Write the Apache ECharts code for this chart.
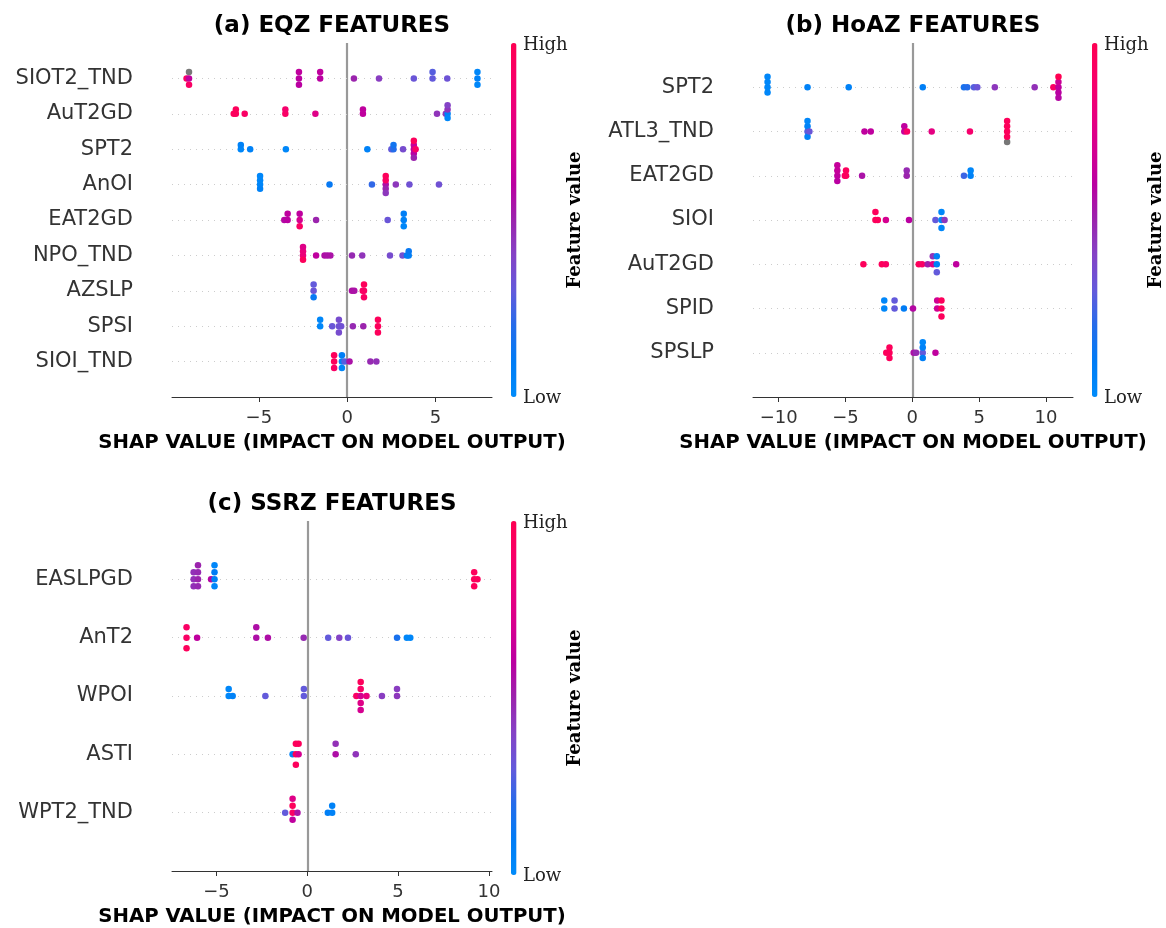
<!DOCTYPE html>
<html><head><meta charset="utf-8">
<script src="https://cdn.jsdelivr.net/npm/echarts@6/dist/echarts.min.js"></script>
<style>html,body{margin:0;padding:0;background:#fff}#c{width:1166px;height:928px}</style>
</head><body><div id="c"></div>
<script>
// ---------------- data ----------------
const featuresA = ['SIOT2_TND','AuT2GD','SPT2','AnOI','EAT2GD','NPO_TND','AZSLP','SPSI','SIOI_TND'];
const shapA = [
  [-9.09,-8.95,-8.95,-8.95,-2.73,-2.73,-2.73,-1.53,-1.53,0.38,1.8,3.77,4.83,4.83,5.66,7.37,7.37,7.37],
  [-6.42,-6.3,-6.3,-5.8,-3.5,-3.5,-1.8,0.89,0.89,5.08,5.58,5.68,5.68,5.68,5.68],
  [-6.02,-6.02,-5.49,-3.47,1.14,2.5,2.62,2.62,3.16,3.77,3.77,3.77,3.77,3.77,3.87],
  [-4.93,-4.93,-4.93,-4.93,-1.0,1.4,2.18,2.18,2.18,2.18,2.18,2.75,3.52,5.19],
  [-3.56,-3.37,-3.37,-2.69,-2.69,-2.69,-1.76,2.29,3.2,3.2,3.2],
  [-2.5,-2.5,-2.5,-2.5,-1.76,-1.28,-1.12,-0.95,0.27,0.85,2.42,3.13,3.38,3.48,3.48],
  [-1.9,-1.9,-1.9,0.27,0.4,0.88,0.95,0.95,0.95],
  [-1.53,-1.53,-0.85,-0.47,-0.47,-0.47,-0.34,0.32,0.91,1.74,1.74,1.74],
  [-0.74,-0.74,-0.74,-0.3,-0.3,-0.3,-0.15,0.13,1.31,1.65]
];
const valueA = [
  [0.92,0.62,null,0.92,0.6,0.62,0.6,0.6,0.62,0.5,0.42,0.32,0.3,0.28,0.33,0.06,0.03,0.03],
  [0.95,0.95,0.96,0.92,0.92,0.88,0.75,0.62,0.62,0.45,0.45,0.06,0.45,0.03,0.4],
  [0.03,0.06,0.06,0.03,0.06,0.3,0.2,0.15,0.36,0.62,0.64,0.6,0.96,0.5,0.92],
  [0.03,0.03,0.06,0.03,0.12,0.22,0.56,0.92,0.5,0.96,0.44,0.44,0.34,0.34],
  [0.58,0.6,0.62,0.7,0.62,0.92,0.5,0.32,0.06,0.08,0.03],
  [0.82,0.82,0.96,0.75,0.62,0.56,0.55,0.55,0.48,0.45,0.36,0.34,0.1,0.08,0.12],
  [0.32,0.3,0.12,0.56,0.55,0.92,0.92,0.96,0.92],
  [0.03,0.03,0.32,0.34,0.36,0.36,0.34,0.48,0.5,0.96,0.96,0.96],
  [0.96,0.96,0.92,0.06,0.08,0.03,0.28,0.55,0.48,0.46]
];
const ticksA = [-5, 0, 5];

const featuresB = ['SPT2','ATL3_TND','EAT2GD','SIOI','AuT2GD','SPID','SPSLP'];
const shapB = [
  [-10.83,-10.83,-10.83,-10.83,-7.84,-4.76,0.78,3.86,4.11,4.61,4.86,6.17,9.15,10.55,10.93,10.93,10.93,10.93,10.93],
  [-7.84,-7.84,-7.84,-7.84,-7.7,-3.58,-3.11,-0.6,-0.6,-0.4,1.45,4.31,7.09,7.09,7.09,7.09,7.09],
  [-5.61,-5.61,-5.61,-5.61,-5.05,-4.96,-4.96,-3.76,-0.42,-0.42,3.86,4.36,4.36],
  [-2.76,-2.76,-2.58,-1.98,-0.25,1.73,2.18,2.18,2.18,2.41],
  [-3.66,-2.28,-1.98,0.48,0.73,1.15,1.53,1.53,1.83,1.83,1.83,3.28],
  [-2.1,-2.1,-1.33,-1.33,-0.63,0.05,1.86,1.86,2.18,2.18,2.18],
  [-1.95,-1.71,-1.71,-1.71,0.1,0.28,0.78,0.78,0.78,0.78,1.73]
];
const valueB = [
  [0.03,0.03,0.03,0.03,0.06,0.06,0.08,0.17,0.2,0.28,0.32,0.44,0.46,0.92,0.62,0.66,0.6,1.0,0.58],
  [0.28,0.06,0.06,0.03,0.32,0.62,0.62,0.64,0.62,0.9,0.78,0.88,0.96,0.96,0.96,0.96,null],
  [0.62,0.64,0.6,0.64,0.92,0.95,0.95,0.55,0.5,0.48,0.24,0.06,0.03],
  [0.96,0.96,0.96,0.7,0.6,0.3,0.03,0.03,0.03,0.44],
  [0.96,0.96,0.92,0.96,0.92,0.52,0.75,0.45,0.06,0.06,0.3,0.62],
  [0.03,0.03,0.3,0.3,0.1,0.58,0.68,0.68,0.96,0.96,0.96],
  [0.96,0.96,0.96,0.96,0.55,0.48,0.3,0.06,0.08,0.03,0.62]
];
const ticksB = [-10, -5, 0, 5, 10];

const featuresC = ['EASLPGD','AnT2','WPOI','ASTI','WPT2_TND'];
const shapC = [
  [-6.26,-6.26,-6.26,-6.02,-6.02,-6.02,-6.02,-5.3,-5.11,-5.11,-5.11,-5.11,9.19,9.19,9.19,9.37],
  [-6.65,-6.65,-6.65,-6.07,-2.81,-2.81,-2.17,-0.2,1.15,1.76,2.24,4.94,5.48,5.67],
  [-4.33,-4.33,-4.11,-2.31,-0.19,-0.19,2.7,2.94,2.94,2.94,2.94,2.94,3.26,4.11,4.94,4.94],
  [-0.81,-0.63,-0.63,-0.63,-0.48,-0.48,1.56,1.56,2.67],
  [-1.22,-0.81,-0.81,-0.81,-0.81,-0.54,1.13,1.37,1.37]
];
const valueC = [
  [0.46,0.46,0.46,0.5,0.48,0.48,0.5,0.58,0.06,0.1,0.03,0.03,0.96,0.96,0.96,0.96],
  [0.92,0.92,0.96,0.62,0.56,0.56,0.56,0.48,0.3,0.4,0.32,0.17,0.03,0.03],
  [0.03,0.03,0.06,0.3,0.3,0.3,0.92,0.7,0.92,0.75,0.96,0.7,0.8,0.42,0.44,0.42],
  [0.06,0.96,0.96,0.96,0.7,0.96,0.56,0.46,0.45],
  [0.3,0.92,0.96,0.62,0.75,0.55,0.08,0.06,0.06]
];
const ticksC = [-5, 0, 5, 10];

const titles = ['(a) EQZ FEATURES', '(b) HoAZ FEATURES', '(c) SSRZ FEATURES'];
const xLabel = 'SHAP VALUE (IMPACT ON MODEL OUTPUT)';
const cbLabels = ['High', 'Low', 'Feature value'];

// SHAP red_blue colormap (low -> high)
const cmap = ['#008bfb','#007cf5','#246cea','#635adb','#8443c6','#9b24ad','#ba00a1','#d50090','#e9007d','#f90068','#ff0052'];

// ---------------- layout helpers ----------------
function swarm(xs) {
  const n = xs.length, nbins = 100;
  const mn = Math.min(...xs), mx = Math.max(...xs);
  const quant = xs.map(x => Math.round(nbins * (x - mn) / (mx - mn + 1e-8)));
  const inds = xs.map((_, i) => i).sort((a, b) => (quant[a] - quant[b]) || (a - b));
  const ys = new Array(n).fill(0);
  let layer = 0, last = -1;
  for (const i of inds) {
    if (quant[i] !== last) layer = 0;
    ys[i] = Math.ceil(layer / 2) * ((layer % 2) * 2 - 1);
    layer++; last = quant[i];
  }
  const m = Math.max(...ys.map(y => y + 1));
  return ys.map(y => y * 0.9 * (0.4 / m));
}
function build(features, shaps, vals) {
  const N = features.length, colored = [], gray = [];
  features.forEach((f, i) => {
    const row = N - 1 - i, off = swarm(shaps[i]);
    shaps[i].forEach((x, j) => {
      const v = vals[i][j];
      if (v === null) gray.push([x, row + off[j]]);
      else colored.push([x, row + off[j], v]);
    });
  });
  const all = shaps.flat();
  const mn = Math.min(...all), mx = Math.max(...all), pad = (mx - mn) * 0.05;
  return { N, colored, gray, min: mn - pad, max: mx + pad, features };
}

const panels = [
  { d: build(featuresA, shapA, valueA), ticks: ticksA, g: { left: 172, top: 43, width: 320, height: 354 } },
  { d: build(featuresB, shapB, valueB), ticks: ticksB, g: { left: 753, top: 43, width: 320, height: 354 } },
  { d: build(featuresC, shapC, valueC), ticks: ticksC, g: { left: 172, top: 521, width: 320, height: 354 } }
];

const SANS = '"DejaVu Sans", sans-serif';
const SERIF = '"DejaVu Serif", serif';
const fmt = v => (v < 0 ? '\u2212' + Math.abs(v) : String(v));

const grid = [], xAxis = [], yAxis = [], series = [], visualMap = [], graphic = [];
panels.forEach((p, k) => {
  const d = p.d, g = p.g;
  grid.push({ left: g.left, top: g.top, width: g.width, height: g.height, containLabel: false });
  xAxis.push({
    type: 'value', gridIndex: k, min: d.min, max: d.max,
    name: xLabel, nameLocation: 'middle', nameGap: 46,
    nameTextStyle: { fontFamily: SANS, fontWeight: 'bold', fontSize: 19.7, color: '#000', verticalAlign: 'middle' },
    axisLine: { show: true, onZero: false, lineStyle: { color: '#333333', width: 1 } },
    axisTick: { show: true, length: 5, customValues: p.ticks, lineStyle: { color: '#333333', width: 1 } },
    axisLabel: { customValues: p.ticks, formatter: fmt, fontFamily: SANS, fontSize: 18, color: '#333333', margin: 12 },
    splitLine: { show: false }
  });
  const rows = d.features.map((_, i) => i);
  yAxis.push({
    type: 'value', gridIndex: k, min: -1, max: d.N,
    axisLine: { show: false }, axisTick: { show: false }, splitLine: { show: false },
    axisLabel: { customValues: rows, formatter: v => d.features[d.N - 1 - v], fontFamily: SANS, fontSize: 21, color: '#333333', margin: 39 }
  });
  series.push({
    type: 'scatter', xAxisIndex: k, yAxisIndex: k, data: d.gray, symbolSize: 6.5, z: 2,
    itemStyle: { color: '#777777', opacity: 1 }, silent: true, emphasis: { disabled: true }
  });
  series.push({
    type: 'scatter', xAxisIndex: k, yAxisIndex: k, data: d.colored, symbolSize: 6.5, z: 3,
    itemStyle: { opacity: 1 }, silent: true, emphasis: { disabled: true },
    markLine: {
      silent: true, z: 1, symbol: ['none', 'none'], label: { show: false }, animation: false,
      data: [{ xAxis: 0, lineStyle: { color: '#999999', width: 2.2, type: 'solid' } }]
        .concat(rows.map(r => ({ yAxis: r, lineStyle: { color: '#cccccc', width: 1, type: [1, 5] } })))
    }
  });
  visualMap.push({
    type: 'continuous', min: 0, max: 1, dimension: 2, seriesIndex: 2 * k + 1,
    inRange: { color: cmap }, orient: 'vertical', calculable: false, hoverLink: false,
    left: g.left + g.width + 19, top: g.top, itemWidth: 5.5, itemHeight: g.height, padding: 0, showLabel: false
  });
  const cx = g.left + g.width / 2;
  const bx = g.left + g.width + 19;
  graphic.push(
    { type: 'text', x: cx, y: g.top - 17, style: { text: titles[k], fill: '#000', font: 'bold 23px ' + SANS, align: 'center', verticalAlign: 'middle' } },
    { type: 'text', x: bx + 12, y: g.top + 2, style: { text: cbLabels[0], fill: '#222', font: '18px ' + SERIF, align: 'left', verticalAlign: 'middle' } },
    { type: 'text', x: bx + 12, y: g.top + g.height + 1, style: { text: cbLabels[1], fill: '#222', font: '18px ' + SERIF, align: 'left', verticalAlign: 'middle' } },
    { type: 'text', x: bx + 64, y: g.top + g.height / 2, rotation: Math.PI / 2, style: { text: cbLabels[2], fill: '#000', font: 'bold 18px ' + SERIF, align: 'center', verticalAlign: 'middle' } }
  );
});

const chart = echarts.init(document.getElementById('c'), null, { renderer: 'canvas' });
chart.setOption({ animation: false, backgroundColor: '#ffffff', grid, xAxis, yAxis, series, visualMap, graphic });
</script>
</body></html>
